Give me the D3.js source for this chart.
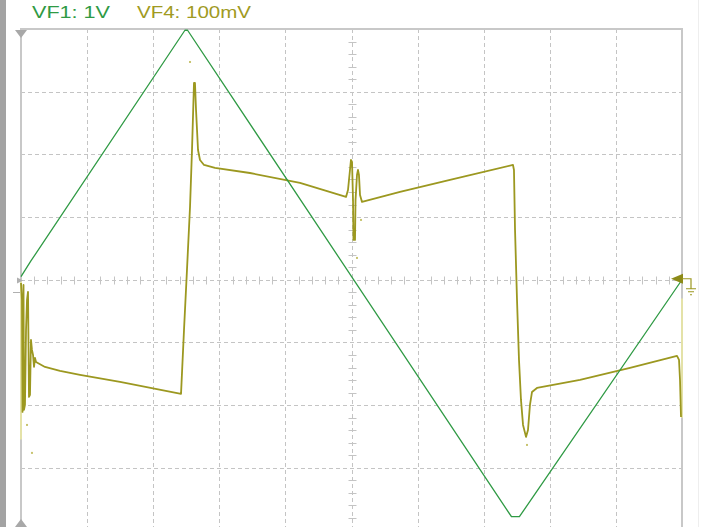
<!DOCTYPE html>
<html>
<head>
<meta charset="utf-8">
<script src="https://cdn.jsdelivr.net/npm/d3@7"></script>
<style>
html,body{margin:0;padding:0;background:#fff;overflow:hidden;}
svg{display:block;}
</style>
</head>
<body>
<svg id="chart" width="706" height="527"></svg>
<script>
// ---- data (time in divisions 0..10) ----
const legendLabels = ["VF1: 1V", "VF4: 100mV"];
// VF1 (volts, 1 V/div)
const vf1Time  = [0, 0.15, 2.48, 2.52, 7.42, 7.54, 10];
const vf1Volts = [0.05, 0.3, 3.98, 3.98, -3.78, -3.78, 0.0];
// VF4 (millivolts, 100 mV/div)
const vf4Time = [0.00,0.015,0.023,0.038,0.045,0.06,0.076,0.091,0.106,0.121,0.136,0.151,0.166,0.182,0.197,0.212,0.227,0.363,0.590,0.893,1.498,2.421,2.466,2.511,2.557,2.587,2.617,2.632,2.648,2.663,2.678,2.708,2.769,2.935,3.464,4.221,4.917,4.947,4.977,4.992,5.008,5.023,5.030,5.053,5.061,5.083,5.098,5.113,5.129,5.159,5.734,6.490,7.443,7.458,7.474,7.504,7.534,7.564,7.595,7.640,7.670,7.700,7.731,7.806,8.457,9.213,9.924,9.955,9.970,9.985];
const vf4mV   = [-5.1,-32.2,-210.8,-8.3,-207.6,-199.7,-80.1,-32.2,-19.5,-186.9,-183.7,-96.0,-112.0,-119.9,-139.1,-124.7,-131.1,-139.1,-145.5,-151.8,-163.0,-182.1,-80.1,15.6,116.1,207.0,313.9,313.9,270.8,238.9,207.0,191.1,183.1,178.3,170.3,154.4,132.1,143.2,175.1,191.1,187.9,127.3,63.5,63.5,127.3,167.1,175.1,167.1,135.2,124.1,140.0,159.2,183.1,175.1,79.4,-32.2,-127.9,-191.7,-231.6,-250.7,-239.6,-199.7,-179.0,-172.6,-159.8,-140.7,-121.5,-127.9,-159.8,-218.8];
// stray VF4 sample dots
const vf4DotTime = [2.557, 5.144, 5.083, 7.655, 0.166, 0.091];
const vf4DotmV   = [347.4, 95.4, 34.8, -263.5, -276.2, -231.6];
// graticule
const xDivs = d3.range(0, 11);   // 10 horizontal divisions
const yDivs = d3.range(-4, 5);   // 8 vertical divisions

// ---- layout ----
const L = 21, R = 682, T = 29, B = 530.5;
const svg = d3.select("#chart");
const x = d3.scaleLinear().domain([0, 10]).range([L, R]);
const y1 = d3.scaleLinear().domain([-4, 4]).range([B, T]);
const y4 = d3.scaleLinear().domain([-400, 400]).range([B, T]);
const yDiv = d3.scaleLinear().domain([-4, 4]).range([B, T]);

const GREEN = "#2f9a44", OLIVE = "#9c9820", GRID = "#c4c4c4";

// left dark bar
svg.append("rect").attr("x", 0).attr("y", 0).attr("width", 6).attr("height", 527).attr("fill", "#a3a3a3");
// far-right faint line
svg.append("line").attr("x1", 698.5).attr("x2", 698.5).attr("y1", 0).attr("y2", 527).attr("stroke", "#eeeeee").attr("stroke-width", 1);

// grid
const g = svg.append("g");
g.selectAll(".vg").data(xDivs.slice(1, -1)).join("line")
  .attr("x1", d => Math.round(x(d)) + 0.5).attr("x2", d => Math.round(x(d)) + 0.5)
  .attr("y1", T).attr("y2", 527)
  .attr("stroke", GRID).attr("stroke-dasharray", "4,3");
g.selectAll(".hg").data(yDivs.slice(1, -1)).join("line")
  .attr("y1", d => Math.round(yDiv(d)) + 0.5).attr("y2", d => Math.round(yDiv(d)) + 0.5)
  .attr("x1", L).attr("x2", R)
  .attr("stroke", GRID).attr("stroke-dasharray", "4,3");

// minor ticks on centre cross
const cx = Math.round(x(5)) + 0.5, cy = Math.round(yDiv(0)) + 0.5;
const xMinor = d3.range(0, 50).map(i => i / 5).filter(v => v % 1 !== 0);
const yMinor = d3.range(-20, 21).map(i => i / 5).filter(v => Math.abs(v % 1) > 1e-9);
g.selectAll(".xm").data(xMinor).join("line")
  .attr("x1", d => Math.round(x(d)) + 0.5).attr("x2", d => Math.round(x(d)) + 0.5)
  .attr("y1", cy - 4).attr("y2", cy + 4).attr("stroke", GRID);
g.selectAll(".ym").data(yMinor).join("line")
  .attr("y1", d => Math.round(yDiv(d)) + 0.5).attr("y2", d => Math.round(yDiv(d)) + 0.5)
  .attr("x1", cx - 4).attr("x2", cx + 4).attr("stroke", GRID);

// border
svg.append("line").attr("x1", L - 1).attr("x2", R + 1).attr("y1", T).attr("y2", T).attr("stroke", "#c8c8c8").attr("stroke-width", 2);
svg.append("line").attr("x1", L).attr("x2", L).attr("y1", T).attr("y2", 527).attr("stroke", "#c8c8c8").attr("stroke-width", 2);
svg.append("line").attr("x1", R).attr("x2", R).attr("y1", T).attr("y2", 527).attr("stroke", "#c8c8c8").attr("stroke-width", 2);
// faint trace tint on edges
svg.append("line").attr("x1", L).attr("x2", L).attr("y1", y4(0)).attr("y2", y4(-100 * 2.55)).attr("stroke", "#e4e2a8").attr("stroke-width", 2);
svg.append("line").attr("x1", R).attr("x2", R).attr("y1", y4(-30)).attr("y2", y4(-220)).attr("stroke", "#e4e2a8").attr("stroke-width", 2);

// traces
const line1 = d3.line().x((d, i) => x(vf1Time[i])).y((d, i) => y1(vf1Volts[i]));
const line4 = d3.line().x((d, i) => x(vf4Time[i])).y((d, i) => y4(vf4mV[i]));
svg.append("path").attr("d", line4(vf4mV)).attr("fill", "none").attr("stroke", OLIVE)
  .attr("stroke-width", 1.8).attr("stroke-linejoin", "round");
svg.selectAll(".dot").data(vf4DotmV).join("rect")
  .attr("x", (d, i) => x(vf4DotTime[i]) - 1).attr("y", d => y4(d) - 1)
  .attr("width", 2).attr("height", 2).attr("fill", "#c8c470");
svg.append("path").attr("d", line1(vf1Volts)).attr("fill", "none").attr("stroke", GREEN)
  .attr("stroke-width", 1.3).attr("stroke-linejoin", "round");

// markers
svg.append("path").attr("d", `M${L - 6},${T + 1} L${L + 6},${T + 1} L${L},${T + 9} Z`).attr("fill", "#a8a8a8");
svg.append("path").attr("d", `M${L - 6},527 L${L + 6},527 L${L},519 Z`).attr("fill", "#a8a8a8");
svg.append("path").attr("d", `M${L - 4},${cy - 3} L${L + 2},${cy} L${L - 4},${cy + 3} Z`).attr("fill", "#b0b0b0");
svg.append("line").attr("x1", L - 8).attr("x2", L - 1).attr("y1", cy + 12).attr("y2", cy + 12).attr("stroke", "#b0b0b0");
// VF4 ground marker
const gy = y4(0);
svg.append("path").attr("d", `M${R + 1},${gy - 6} L${R + 1},${gy + 4} L${R - 11},${gy - 1} Z`).attr("fill", "#8c8a18");
svg.append("path").attr("d", `M${R},${gy - 1} H${R + 9} V${gy + 9} M${R + 4},${gy + 9} H${R + 14} M${R + 6},${gy + 12} H${R + 12} M${R + 8},${gy + 15} H${R + 10}`)
  .attr("fill", "none").attr("stroke", OLIVE).attr("stroke-width", 1.2);

// legend
const legendColors = [GREEN, "#a09a22"];
const legendX = [32, 137], legendW = [78, 114];
svg.selectAll(".lg").data(legendLabels).join("text")
  .attr("x", (d, i) => legendX[i]).attr("y", 18)
  .attr("textLength", (d, i) => legendW[i]).attr("lengthAdjust", "spacingAndGlyphs")
  .attr("font-family", "Liberation Sans, Arial, sans-serif").attr("font-size", 16)
  .attr("fill", (d, i) => legendColors[i]).text(d => d);
</script>
</body>
</html>
